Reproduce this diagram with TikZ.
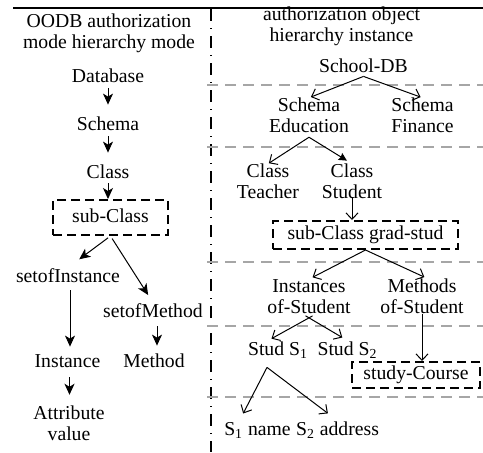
\documentclass[tikz,border=0pt]{standalone}
\usepackage{fontspec}
\setmainfont{Liberation Serif}
\usetikzlibrary{arrows.meta}
\begin{document}
\begin{tikzpicture}[x=0.5pt,y=-0.5pt,
  every node/.style={inner sep=0pt, align=center,
    font=\fontsize{9.85}{10.5}\selectfont,
    execute at begin node={\rule[-2pt]{0pt}{9pt}},
    execute at end node={\rule[-2pt]{0pt}{9pt}}},
  dbox/.style={draw, line width=1pt, dash pattern=on 4.5pt off 2.5pt},
  larr/.style={-{Stealth[length=5.5pt,width=5pt,inset=1.5pt]}, line width=0.5pt},
  rarr/.style={-{Straight Barb[length=3.2pt,width=6pt]}, line width=0.5pt},
  farr/.style={-{Stealth[length=4pt,width=4pt,inset=0.5pt]}, line width=0.5pt},
  sepline/.style={draw=black!35, line width=0.75pt, dash pattern=on 5.5pt off 3.5pt},
]
\useasboundingbox (0,0) rectangle (483,452);

% frame lines
\draw[line width=0.7pt] (13,8) -- (483,8);
\draw[line width=0.6pt, dash pattern=on 6pt off 3.5pt on 0.5pt off 3.5pt] (211,9) -- (211,452);
\foreach \yy in {85,147,262,326,397}
  \draw[sepline] (207,\yy) -- (483,\yy);

% left column
\node (t1) at (109,33.5) {OODB authorization\\mode hierarchy mode};
\node (db) at (108,77) {Database};
\node (sch) at (108,125) {Schema};
\node (cls) at (108,173) {Class};
\node[dbox, minimum width=57.5pt, minimum height=17.5pt] (sub) at (110.5,217.5) {sub-Class};
\node (soi) at (68,277) {setofInstance};
\node (som) at (153,312) {setofMethod};
\node (inst) at (67.5,362) {Instance};
\node (meth) at (154,362) {Method};
\node (attr) at (69,425.5) {Attribute\\value};

\draw[larr, shorten <=1pt, shorten >=5.5pt] (db) -- (sch);
\draw[larr, shorten <=1pt, shorten >=5.5pt] (sch) -- (cls);
\draw[larr, shorten <=0.5pt] (cls.south) -- (cls.south |- sub.north);
\draw[larr, shorten <=1.5pt, shorten >=7pt] (sub.south) -- (soi.north);
\draw[larr, shorten <=1.5pt, shorten >=4.5pt] (sub.south) -- (som.north);
\draw[larr, shorten <=2pt, shorten >=3pt] ([xshift=1pt]soi.south) -- ([xshift=1pt]soi.south |- inst.north);
\draw[larr, shorten <=2.5pt, shorten >=3.5pt] ([xshift=2pt]som.south) -- ([xshift=2pt]som.south |- meth.north);
\draw[larr, shorten <=3pt, shorten >=5.5pt] ([xshift=1pt]inst.south) -- ([xshift=1pt]inst.south |- attr.north);

% right column
\node (t2) at (341.5,26.5) {authorization object\\hierarchy instance};
\node (sdb) at (363.5,67) {School-DB};
\node (sed) at (309,117.5) {Schema\\Education};
\node (sfi) at (422.5,117.5) {Schema\\Finance};
\node (cte) at (268,183.5) {Class\\Teacher};
\node (cst) at (352,183.5) {Class\\Student};
\node[dbox, minimum width=92.5pt, minimum height=14pt] (gsb) at (365.5,235) {sub-Class grad-stud};
\node (ins) at (309,298.5) {Instances\\of-Student};
\node (mos) at (422,298.5) {Methods\\of-Student};
\node (s1) at (278,350) {Stud S\textsubscript{1}};
\node (s2) at (347.5,350) {Stud S\textsubscript{2}};
\node[dbox, minimum width=64pt, minimum height=13pt] (scb) at (416,375) {study-Course};
\node (n1) at (257.5,430) {S\textsubscript{1} name};
\node (a2) at (337.5,430) {S\textsubscript{2} address};

\draw[rarr, shorten >=1pt] (sdb.south) -- (sed.north);
\draw[rarr, shorten >=1pt] (sdb.south) -- (sfi.north);
\draw[rarr, shorten >=0.5pt] (sed.south) -- (cte.north);
\draw[farr, shorten >=3pt] (sed.south) -- (cst.north);
\draw[rarr, shorten <=-3pt] (cst.south) -- (cst.south |- gsb.north);
\draw[rarr, shorten >=2pt] (gsb.south) -- (ins.north);
\draw[rarr, shorten >=2pt] (gsb.south) -- ([xshift=3pt]mos.north);
\draw[rarr, shorten <=-2pt, shorten >=2pt] (ins.south) -- ([xshift=-5pt]s1.north);
\draw[rarr, shorten <=-2pt, shorten >=3pt] (ins.south) -- (s2.north);
\draw[rarr, shorten <=-2pt] (mos.south) -- (mos.south |- scb.north);
\draw[rarr, shorten >=4pt] ([shift={(-5.5pt,-4pt)}]s1.south) -- ([xshift=-9pt]n1.north);
\draw[rarr, shorten >=6pt] ([shift={(-5.5pt,-4pt)}]s1.south) -- (a2.north);
\end{tikzpicture}
\end{document}
